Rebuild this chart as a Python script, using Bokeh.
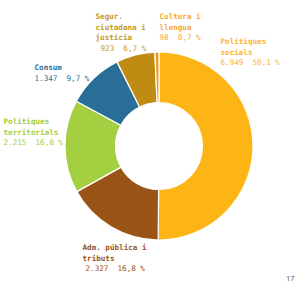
import math
from bokeh.plotting import figure
from bokeh.models import Range1d, ColumnDataSource
from bokeh.core.properties import value
from bokeh.embed import file_html
from bokeh.resources import INLINE

# ---- data ----
categories = ["Polítiques socials", "Adm. pública i tributs", "Polítiques territorials",
              "Consum", "Segur. ciutadana i justícia", "Cultura i llengua"]
label_lines = [["Polítiques", "socials"], ["Adm. pública i", "tributs"],
               ["Polítiques", "territorials"], ["Consum"],
               ["Segur.", "ciutadana i", "justícia"], ["Cultura i", "llengua"]]
values = [6949, 2327, 2215, 1347, 923, 98]
value_labels = ["6.949", "2.327", "2.215", "1.347", "923", "98"]
pct_labels = ["50,1 %", "16,8 %", "16,0 %", "9,7 %", "6,7 %", "0,7 %"]
page_number = "17"

# ---- style ----
W, H = 300, 283
colors = ["#FDB515", "#9A5418", "#A3CF41", "#2A6E97", "#C08B12", "#F39B1E"]
text_colors = ["#FDB52E", "#9A5418", "#A3CF41", "#2A6E97", "#C39A2A", "#F7A740"]
cx, cy_img = 158.5, 145.5
r_out, r_in = 94, 43.5
# label anchor (left x, first-line center y in image px)
label_pos = [(220, 41), (82, 247), (3, 121), (34, 67), (95, 16), (159, 16)]
value_indent = [0, 3, 0, 0, 5, 0]
line_h = 10.5
font = "DejaVu Sans Mono"
fs = "7.6px"
gap = "\u00a0\u00a0"

def fy(y_img):
    return H - y_img

p = figure(width=W, height=H, output_backend="svg", toolbar_location=None,
           x_range=Range1d(0, W), y_range=Range1d(0, H), min_border=0)
p.axis.visible = False
p.grid.visible = False
p.outline_line_color = None
p.background_fill_color = "white"
p.border_fill_color = "white"

total = sum(values)
starts, ends = [], []
a = math.pi / 2
for v in values:
    ang = 2 * math.pi * v / total
    starts.append(a)
    ends.append(a - ang)
    a -= ang

src = ColumnDataSource(dict(x=[cx] * len(values), y=[fy(cy_img)] * len(values),
                            start=starts, end=ends, color=colors))
p.annular_wedge(x="x", y="y", inner_radius=r_in, outer_radius=r_out,
                inner_radius_units="screen", outer_radius_units="screen",
                start_angle="start", end_angle="end", direction="clock",
                fill_color="color", line_color="white", line_width=1.2, source=src)

for i, lines in enumerate(label_lines):
    lx, ly = label_pos[i]
    xs, ys, ts = [], [], []
    for j, t in enumerate(lines):
        xs.append(lx)
        ys.append(fy(ly + j * line_h))
        ts.append(t)
    p.text(x=xs, y=ys, text=ts, text_font=value(font), text_font_size=fs,
           text_font_style="bold", text_color=text_colors[i],
           text_baseline="middle", text_align="left")
    vy = ly + len(lines) * line_h
    p.text(x=[lx + value_indent[i]], y=[fy(vy)],
           text=[value_labels[i] + gap + pct_labels[i].replace(" ", "\u00a0")],
           text_font=value(font), text_font_size=fs, text_color=text_colors[i],
           text_baseline="middle", text_align="left")

p.text(x=[294], y=[fy(278)], text=[page_number], text_font=value("Roboto"),
       text_font_size="7.5px", text_color="#666666", text_baseline="middle",
       text_align="right")

open("out.html", "w").write(file_html(p, INLINE))
